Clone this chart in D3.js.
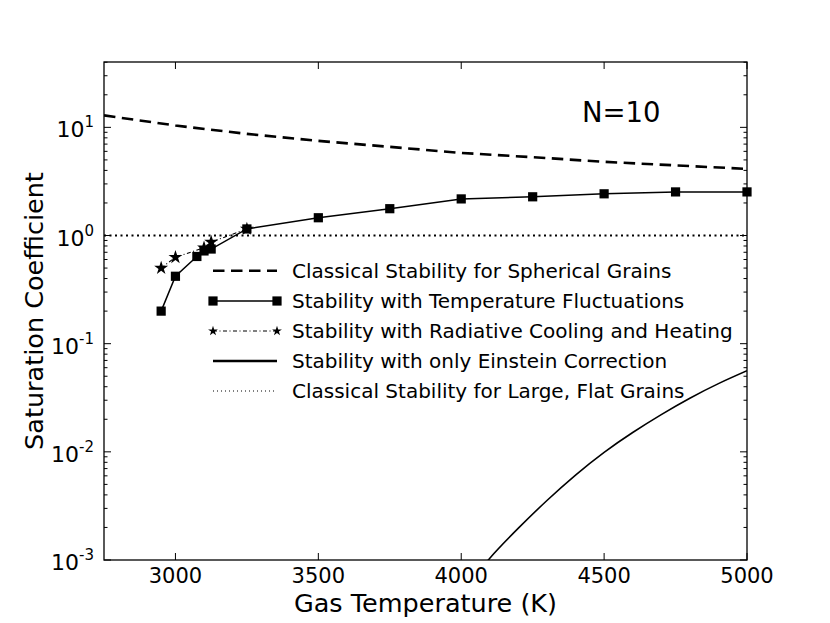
<!DOCTYPE html>
<html lang="en">
<head>
<meta charset="utf-8">
<title>Saturation coefficient vs gas temperature</title>
<script src="https://cdn.jsdelivr.net/npm/d3@7"></script>
<style>
    body { margin: 0; background: #fff; }
    text { font-family: "DejaVu Sans", sans-serif; fill: #000; }
</style>
</head>
<body>
<svg id="chart" width="830" height="623"></svg>
<script>
// values
var sphericalT = [2750, 3000, 3250, 3500, 3750, 4000, 4250, 4500, 4750, 5000];
var sphericalS = [12.9, 10.4, 8.7, 7.5, 6.6, 5.8, 5.3, 4.8, 4.45, 4.13];

var fluctT = [2950, 3000, 3075, 3100, 3125, 3250, 3500, 3750, 4000, 4250, 4500, 4750, 5000];
var fluctS = [0.20, 0.42, 0.64, 0.72, 0.75, 1.15, 1.46, 1.77, 2.18, 2.28, 2.43, 2.53, 2.53];

var radT = [2950, 3000, 3100, 3125, 3250];
var radS = [0.50, 0.63, 0.77, 0.87, 1.15];

var einsteinT = [4050, 4100, 4200, 4300, 4400, 4500, 4600, 4700, 4800, 4900, 5000];
var einsteinS = [0.00069, 0.00104, 0.00197, 0.00355, 0.0061, 0.0099, 0.0151, 0.0221, 0.0313, 0.0427, 0.0562];

var flatT = [2750, 5000];
var flatS = [1, 1];

var xTicks = [3000, 3500, 4000, 4500, 5000];
var yExps = [-3, -2, -1, 0, 1];

var legendLabels = [
    "Classical Stability for Spherical Grains",
    "Stability with Temperature Fluctuations",
    "Stability with Radiative Cooling and Heating",
    "Stability with only Einstein Correction",
    "Classical Stability for Large, Flat Grains"
];

var margin = {left: 104, right: 747, top: 62, bottom: 560};

var svg = d3.select("#chart");

var x = d3.scaleLinear().domain([2750, 5000]).range([margin.left, margin.right]);
var y = d3.scaleLog().domain([1e-3, 40.2]).range([margin.bottom, margin.top]);

function pairs(ts, vs) {
    return ts.map(function (t, i) { return [t, vs[i]]; });
}

svg.append("clipPath").attr("id", "plotclip")
    .append("rect")
    .attr("x", margin.left).attr("y", margin.top)
    .attr("width", margin.right - margin.left)
    .attr("height", margin.bottom - margin.top);

var line = d3.line()
    .x(function (d) { return x(d[0]); })
    .y(function (d) { return y(d[1]); });

var plot = svg.append("g").attr("clip-path", "url(#plotclip)");

// classical, flat grains
plot.append("path")
    .attr("d", line(pairs(flatT, flatS)))
    .attr("fill", "none").attr("stroke", "#000")
    .attr("stroke-width", 2.2).attr("stroke-dasharray", "2,3.5");

// classical, spherical grains
plot.append("path")
    .attr("d", line(pairs(sphericalT, sphericalS)))
    .attr("fill", "none").attr("stroke", "#000")
    .attr("stroke-width", 2.6).attr("stroke-dasharray", "11.5,6.5");

// Einstein correction only
plot.append("path")
    .attr("d", d3.line().curve(d3.curveNatural)
        .x(function (d) { return x(d[0]); })
        .y(function (d) { return y(d[1]); })(pairs(einsteinT, einsteinS)))
    .attr("fill", "none").attr("stroke", "#000")
    .attr("stroke-width", 1.6);

var star = d3.symbol().type(d3.symbolStar);

// radiative cooling and heating
svg.append("path")
    .attr("d", line(pairs(radT, radS)))
    .attr("fill", "none").attr("stroke", "#000")
    .attr("stroke-width", 1.1).attr("stroke-dasharray", "4,2.5,1,2.5");
svg.selectAll(".star").data(pairs(radT, radS)).enter()
    .append("path")
    .attr("class", "star")
    .attr("transform", function (d) { return "translate(" + x(d[0]) + "," + y(d[1]) + ")"; })
    .attr("d", star.size(60)())
    .attr("fill", "#000");

// temperature fluctuations
svg.append("path")
    .attr("d", line(pairs(fluctT, fluctS)))
    .attr("fill", "none").attr("stroke", "#000")
    .attr("stroke-width", 1.5);
svg.selectAll(".sq").data(pairs(fluctT, fluctS)).enter()
    .append("rect")
    .attr("class", "sq")
    .attr("x", function (d) { return x(d[0]) - 4.6; })
    .attr("y", function (d) { return y(d[1]) - 4.6; })
    .attr("width", 9.2).attr("height", 9.2)
    .attr("fill", "#000");

// frame
svg.append("rect")
    .attr("x", margin.left).attr("y", margin.top)
    .attr("width", margin.right - margin.left)
    .attr("height", margin.bottom - margin.top)
    .attr("fill", "none").attr("stroke", "#000").attr("stroke-width", 1.3);

// ticks, inward on all sides
var ticks = svg.append("g").attr("stroke", "#000").attr("stroke-width", 1);
xTicks.forEach(function (t) {
    ticks.append("line").attr("x1", x(t)).attr("x2", x(t))
        .attr("y1", margin.bottom).attr("y2", margin.bottom - 7);
    ticks.append("line").attr("x1", x(t)).attr("x2", x(t))
        .attr("y1", margin.top).attr("y2", margin.top + 7);
});
y.ticks().forEach(function (v) {
    var major = Math.abs(Math.log10(v) - Math.round(Math.log10(v))) < 1e-9;
    var len = major ? 7 : 3.5;
    ticks.append("line").attr("x1", margin.left).attr("x2", margin.left + len)
        .attr("y1", y(v)).attr("y2", y(v));
    ticks.append("line").attr("x1", margin.right).attr("x2", margin.right - len)
        .attr("y1", y(v)).attr("y2", y(v));
});

// tick labels
svg.selectAll(".xt").data(xTicks).enter()
    .append("text")
    .attr("x", function (d) { return x(d); })
    .attr("y", margin.bottom + 23)
    .attr("text-anchor", "middle")
    .attr("font-size", 21)
    .text(function (d) { return d; });

var yl = svg.selectAll(".yt").data(yExps).enter()
    .append("text")
    .attr("x", 94)
    .attr("y", function (d) { return y(Math.pow(10, d)) + 10; })
    .attr("text-anchor", "end")
    .attr("font-size", 22);
yl.append("tspan").text("10");
yl.append("tspan").attr("font-size", 15).attr("dy", -10)
    .text(function (d) { return d; });

// axis titles
svg.append("text")
    .attr("x", (margin.left + margin.right) / 2)
    .attr("y", 612)
    .attr("text-anchor", "middle")
    .attr("font-size", 25.5)
    .text("Gas Temperature (K)");
svg.append("text")
    .attr("transform", "translate(43," + (margin.top + margin.bottom) / 2 + ") rotate(-90)")
    .attr("text-anchor", "middle")
    .attr("font-size", 25.5)
    .text("Saturation Coefficient");

svg.append("text")
    .attr("x", 582).attr("y", 122)
    .attr("font-size", 27.5)
    .text("N=10");

// legend
var lg = svg.append("g");
var rowY = [270.7, 301, 331, 361, 391];
var lx1 = 213, lx2 = 277;
lg.append("line").attr("x1", lx1).attr("x2", lx2).attr("y1", rowY[0]).attr("y2", rowY[0])
    .attr("stroke", "#000").attr("stroke-width", 2.6).attr("stroke-dasharray", "11.5,6.5");
lg.append("line").attr("x1", lx1).attr("x2", lx2).attr("y1", rowY[1]).attr("y2", rowY[1])
    .attr("stroke", "#000").attr("stroke-width", 1.5);
[lx1, lx2].forEach(function (px) {
    lg.append("rect").attr("x", px - 4.6).attr("y", rowY[1] - 4.6)
        .attr("width", 9.2).attr("height", 9.2).attr("fill", "#000");
});
lg.append("line").attr("x1", lx1).attr("x2", lx2).attr("y1", rowY[2]).attr("y2", rowY[2])
    .attr("stroke", "#000").attr("stroke-width", 1).attr("stroke-dasharray", "4,2.5,1,2.5");
[lx1, lx2].forEach(function (px) {
    lg.append("path").attr("transform", "translate(" + px + "," + rowY[2] + ")")
        .attr("d", star.size(30)()).attr("fill", "#000");
});
lg.append("line").attr("x1", lx1).attr("x2", lx2).attr("y1", rowY[3]).attr("y2", rowY[3])
    .attr("stroke", "#000").attr("stroke-width", 2.6);
lg.append("line").attr("x1", lx1).attr("x2", lx2).attr("y1", rowY[4]).attr("y2", rowY[4])
    .attr("stroke", "#000").attr("stroke-width", 1).attr("stroke-dasharray", "1,3");

lg.selectAll(".lt").data(legendLabels).enter()
    .append("text")
    .attr("x", 292)
    .attr("y", function (d, i) { return rowY[i] + 7; })
    .attr("font-size", 20)
    .text(function (d) { return d; });
</script>
</body>
</html>
